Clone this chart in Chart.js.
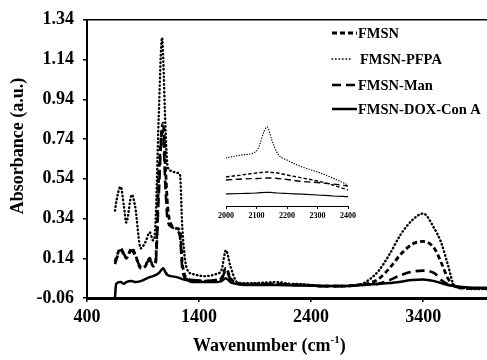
<!DOCTYPE html>
<html>
<head>
<meta charset="utf-8">
<script src="https://cdn.jsdelivr.net/npm/chart.js@4/dist/chart.umd.min.js"></script>
<style>
  html, body { margin: 0; padding: 0; background: #fff; }
  #wrap { position: relative; width: 487px; height: 360px; overflow: hidden; }
  #main { position: absolute; left: 0; top: 0; }
  #inset { position: absolute; left: 200px; top: 112px; }
</style>
</head>
<body>
<div id="wrap">
  <canvas id="main" width="487" height="360"></canvas>
  <canvas id="inset" width="170" height="115"></canvas>
</div>
<script>
// FTIR spectra, values
const wavenumbers = [650, 660, 700, 730, 750, 800, 830, 880, 920, 960, 990, 1010, 1040, 1070, 1080, 1100, 1120, 1150, 1200, 1230, 1250, 1290, 1350, 1450, 1550, 1600, 1640, 1680, 1740, 1800, 1900, 2000, 2100, 2200, 2300, 2400, 2500, 2600, 2700, 2800, 2850, 2900, 3000, 3100, 3200, 3300, 3400, 3500, 3560, 3620, 3680, 3750, 3850, 3970];

const fmsn = [0.12, 0.14, 0.19, 0.16, 0.14, 0.19, 0.16, 0.09, 0.10, 0.14, 0.10, 0.11, 0.55, 0.80, 0.82, 0.60, 0.40, 0.31, 0.29, 0.28, 0.12, 0.04, 0.03, 0.025, 0.03, 0.04, 0.09, 0.04, 0.015, 0.01, 0.01, 0.01, 0.01, 0.008, 0.006, 0.004, 0.0, 0.0, 0.0, 0.005, 0.008, 0.012, 0.035, 0.09, 0.16, 0.21, 0.225, 0.19, 0.12, 0.04, 0.0, -0.01, -0.012, -0.012];

const fmsnPfpa = [0.38, 0.42, 0.50, 0.40, 0.32, 0.46, 0.40, 0.19, 0.22, 0.27, 0.23, 0.30, 0.85, 1.25, 1.15, 0.80, 0.60, 0.58, 0.57, 0.56, 0.30, 0.09, 0.06, 0.05, 0.06, 0.08, 0.18, 0.10, 0.02, 0.015, 0.015, 0.018, 0.02, 0.012, 0.01, 0.005, 0.0, 0.0, 0.0, 0.005, 0.01, 0.025, 0.075, 0.16, 0.26, 0.33, 0.365, 0.29, 0.22, 0.11, 0.0, -0.01, -0.015, -0.015];

const fmsnMan = [0.11, 0.13, 0.18, 0.16, 0.15, 0.18, 0.15, 0.10, 0.11, 0.13, 0.11, 0.11, 0.45, 0.78, 0.76, 0.50, 0.33, 0.30, 0.28, 0.25, 0.09, 0.035, 0.03, 0.025, 0.03, 0.035, 0.08, 0.035, 0.012, 0.01, 0.01, 0.01, 0.01, 0.008, 0.006, 0.004, 0.0, 0.0, 0.0, 0.003, 0.005, 0.007, 0.012, 0.03, 0.055, 0.072, 0.078, 0.065, 0.03, 0.01, 0.0, -0.01, -0.012, -0.012];

const fmsnDoxConA = [-0.055, 0.01, 0.02, 0.012, 0.02, 0.025, 0.02, 0.025, 0.035, 0.045, 0.05, 0.055, 0.065, 0.085, 0.09, 0.07, 0.055, 0.05, 0.045, 0.04, 0.035, 0.03, 0.02, 0.02, 0.02, 0.025, 0.04, 0.02, 0.01, 0.006, 0.005, 0.005, 0.005, 0.004, 0.003, 0.002, 0.0, 0.0, 0.0, 0.003, 0.005, 0.008, 0.01, 0.015, 0.022, 0.03, 0.033, 0.025, 0.015, 0.005, 0.0, -0.005, -0.008, -0.008];

const seriesNames = ['FMSN', 'FMSN-PFPA', 'FMSN-Man', 'FMSN-DOX-Con A'];

const xTicks = [400, 1400, 2400, 3400];
const yTicks = [-0.06, 0.14, 0.34, 0.54, 0.74, 0.94, 1.14, 1.34];

// inset: 2000-2400 cm-1, relative units
const insetWavenumbers = [2000, 2050, 2100, 2135, 2150, 2170, 2200, 2250, 2300, 2350, 2400];
const insetFmsn = [0.29, 0.31, 0.33, 0.34, 0.335, 0.33, 0.31, 0.28, 0.25, 0.21, 0.16];
const insetPfpa = [0.48, 0.51, 0.55, 0.79, 0.66, 0.52, 0.46, 0.39, 0.34, 0.28, 0.21];
const insetMan = [0.26, 0.27, 0.275, 0.28, 0.28, 0.275, 0.265, 0.245, 0.235, 0.22, 0.20];
const insetDox = [0.12, 0.125, 0.13, 0.137, 0.135, 0.13, 0.125, 0.118, 0.11, 0.10, 0.093];
const insetTicks = [2000, 2100, 2200, 2300, 2400];

const SERIF = '"Liberation Serif", "Times New Roman", serif';

const styles = [
  { borderDash: [5, 3], borderWidth: 2.8 },
  { borderDash: [0.5, 3.3], borderWidth: 2.4 },
  { borderDash: [9, 5], borderWidth: 2.6 },
  { borderDash: [], borderWidth: 2.5 }
];

function toPoints(xs, ys) {
  return xs.map((x, i) => ({ x: x, y: ys[i] }));
}

function makeDatasets(xs, lists, widthScale, dashScale) {
  return lists.map((ys, i) => ({
    label: seriesNames[i],
    data: toPoints(xs, ys),
    borderColor: '#000',
    borderWidth: styles[i].borderWidth * widthScale,
    borderDash: styles[i].borderDash.map(d => d * dashScale),
    borderCapStyle: i === 1 ? 'round' : 'butt',
    pointRadius: 0,
    fill: false,
    cubicInterpolationMode: 'monotone'
  }));
}

const decor = {
  id: 'decor',
  afterDraw(chart) {
    const ctx = chart.ctx;
    const area = chart.chartArea;
    ctx.save();
    // top frame line
    ctx.strokeStyle = '#000';
    ctx.lineWidth = 1.5;
    ctx.beginPath();
    ctx.moveTo(area.left, area.top);
    ctx.lineTo(area.right, area.top);
    ctx.stroke();

    // axis titles
    ctx.fillStyle = '#000';
    ctx.font = 'bold 18px ' + SERIF;
    ctx.textBaseline = 'middle';
    ctx.textAlign = 'left';
    const t = 'Wavenumber (cm';
    const tx = 193, ty = 346;
    ctx.fillText(t, tx, ty);
    let w = ctx.measureText(t).width;
    ctx.font = 'bold 11px ' + SERIF;
    ctx.fillText('-1', tx + w, ty - 6);
    const w2 = ctx.measureText('-1').width;
    ctx.font = 'bold 18px ' + SERIF;
    ctx.fillText(')', tx + w + w2, ty);

    ctx.translate(18, 146);
    ctx.rotate(-Math.PI / 2);
    ctx.textAlign = 'center';
    ctx.fillText('Absorbance (a.u.)', 0, 0);
    ctx.restore();

    // legend
    ctx.save();
    const rowsY = [33, 59, 85, 109];
    chart.data.datasets.forEach((ds, i) => {
      const y = rowsY[i];
      ctx.strokeStyle = '#000';
      ctx.lineWidth = i === 1 ? 1.6 : ds.borderWidth;
      ctx.lineCap = ds.borderCapStyle;
      ctx.setLineDash(i === 1 ? [0.5, 3] : ds.borderDash);
      ctx.beginPath();
      ctx.moveTo(332, y);
      ctx.lineTo(i === 1 ? 352 : 357, y);
      ctx.stroke();
      ctx.setLineDash([]);
      ctx.fillStyle = '#000';
      ctx.font = 'bold 14.5px ' + SERIF;
      ctx.textAlign = 'left';
      ctx.textBaseline = 'middle';
      ctx.fillText(ds.label, i === 1 ? 360 : 358, y + 1);
    });
    ctx.restore();
  }
};

new Chart(document.getElementById('main'), {
  type: 'line',
  data: {
    datasets: makeDatasets(wavenumbers, [fmsn, fmsnPfpa, fmsnMan, fmsnDoxConA], 1, 1)
  },
  options: {
    responsive: false,
    animation: false,
    layout: { padding: { top: 13, left: 0, right: 0, bottom: 0 } },
    plugins: { legend: { display: false }, tooltip: { enabled: false } },
    scales: {
      x: {
        type: 'linear',
        min: 400,
        max: 3970,
        afterBuildTicks: s => { s.ticks = xTicks.map(v => ({ value: v })); },
        afterFit: s => { s.height = 62; },
        ticks: {
          color: '#000',
          padding: 5,
          maxRotation: 0,
          font: { family: SERIF, size: 18, weight: 'bold' },
          callback: v => String(v)
        },
        grid: { drawOnChartArea: false, color: '#000', tickLength: 4, lineWidth: 1.5 },
        border: { color: '#000', width: 3 }
      },
      y: {
        min: -0.06,
        max: 1.34,
        afterBuildTicks: s => { s.ticks = yTicks.map(v => ({ value: v })); },
        afterFit: s => { s.width = 87; },
        ticks: {
          color: '#000',
          padding: 9,
          font: { family: SERIF, size: 18, weight: 'bold' },
          callback: v => v.toFixed(2)
        },
        grid: { drawOnChartArea: false, color: '#000', tickLength: 4, lineWidth: 1.5 },
        border: { color: '#000', width: 2 }
      }
    }
  },
  plugins: [decor]
});

new Chart(document.getElementById('inset'), {
  type: 'line',
  data: {
    datasets: makeDatasets(insetWavenumbers, [insetFmsn, insetPfpa, insetMan, insetDox], 0.5, 0.7)
  },
  options: {
    responsive: false,
    animation: false,
    layout: { padding: { top: 8, left: 26, right: 22, bottom: 0 } },
    plugins: { legend: { display: false }, tooltip: { enabled: false } },
    scales: {
      x: {
        type: 'linear',
        min: 2000,
        max: 2400,
        afterBuildTicks: s => { s.ticks = insetTicks.map(v => ({ value: v })); },
        afterFit: s => { s.height = 21; },
        ticks: {
          color: '#000',
          padding: 2,
          maxRotation: 0,
          font: { family: SERIF, size: 8, weight: 'bold' },
          callback: v => String(v)
        },
        grid: { drawOnChartArea: false, color: '#000', tickLength: 3, lineWidth: 1 },
        border: { color: '#000', width: 1 }
      },
      y: { display: false, min: 0, max: 0.86 }
    }
  }
});
</script>
</body>
</html>
